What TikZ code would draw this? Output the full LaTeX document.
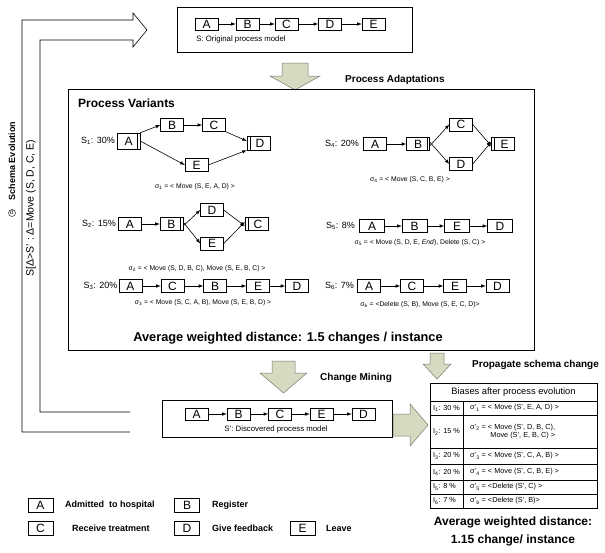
\documentclass[tikz,border=0pt]{standalone}
\usepackage{fontspec}
\setmainfont{Liberation Sans}
\usetikzlibrary{positioning}
\usetikzlibrary{arrows}

\definecolor{blockfill}{RGB}{214,218,192}
\definecolor{blockedge}{RGB}{120,120,110}

\tikzset{
  act/.style={draw, fill=white, minimum width=23pt, minimum height=13pt, inner sep=0pt, font=\fontsize{12}{12}\selectfont},
  flow/.style={-latex, line width=0.6pt},
  pct/.style={anchor=east, inner sep=1pt, font=\fontsize{9}{10}\selectfont},
  delta/.style={inner sep=0pt, font=\fontsize{6.8}{7}\selectfont},
  head/.style={anchor=west, inner sep=0pt, font=\bfseries\fontsize{10}{11}\selectfont},
  big/.style={inner sep=0pt, font=\bfseries\fontsize{12}{13}\selectfont},
  block/.style={draw=blockedge, fill=blockfill, line width=0.5pt},
  cell/.style={inner sep=0pt, font=\fontsize{7.3}{8.5}\selectfont},
  legtext/.style={anchor=west, inner sep=0pt, font=\bfseries\fontsize{9}{10}\selectfont}
}

\begin{document}
\begin{tikzpicture}[x=1pt,y=-1pt]
\useasboundingbox (0,0) rectangle (605,552);

% schema evolution (hollow arrow back to the top)
\draw[line width=0.6pt] (130,432) -- (22,432) -- (22,20) -- (133,20) -- (133,13) -- (147,30)
  -- (133,47) -- (133,40) -- (40,40) -- (40,412) -- (130,412);
\node[circle, draw, inner sep=0.6pt, font=\fontsize{6.5}{6.5}\selectfont] (sig) at (12,213) {σ};
\node[rotate=90, inner sep=0pt, font=\bfseries\fontsize{9}{10}\selectfont] (evo) at (12,161) {Schema Evolution};
\node[rotate=90, inner sep=0pt, font=\fontsize{10.5}{11}\selectfont] (delta) at (31,208) {S[Δ>S' : Δ=Move (S, D, C, E)};

% original process model
\draw (177,7) rectangle (412,52);
\node[act, minimum height=12pt] (oA) at (206.5,24) {A};
\node[act, minimum height=12pt] (oB) at (247.5,24) {B};
\node[act, minimum height=12pt] (oC) at (286.5,24) {C};
\node[act, minimum height=12pt] (oD) at (330,24) {D};
\node[act, minimum height=12pt] (oE) at (373.5,24) {E};
\draw[flow] (oA) -- (oB);
\draw[flow] (oB) -- (oC);
\draw[flow] (oC) -- (oD);
\draw[flow] (oD) -- (oE);
\node[cell, font=\fontsize{7.8}{8}\selectfont] (orig) at (241,39) {S: Original process model};

\draw[block] (282,63) -- (308,63) -- (308,76) -- (320,76) -- (295,90) -- (270,76) -- (282,76) -- cycle;
\node[head] (adapt) at (345,80) {Process Adaptations};

% process variants
\draw (68,89) rectangle (534,350);
\node[big, anchor=west] (pv) at (78,103) {Process Variants};

% S1
\node[pct] (s1) at (116,141) {S\textsubscript{1}: 30\%};
\node[act, minimum height=16pt] (a1) at (128.5,141) {A\hspace{3pt}};
\node[act] (b1) at (172,125) {B};
\node[act] (c1) at (214,125) {C};
\node[act, minimum height=14pt] (d1) at (258.5,143) {\hspace{3pt}D};
\node[act] (e1) at (196.5,165) {E};
\draw ([xshift=-3pt]a1.north east) -- ([xshift=-3pt]a1.south east);
\draw ([xshift=3pt]d1.north west) -- ([xshift=3pt]d1.south west);
\draw[flow] (a1.north east) -- (b1.west);
\draw[flow] (b1) -- (c1);
\draw[flow] (c1.south east) -- ([yshift=2pt]d1.west);
\draw[flow] (a1.east) -- (e1.west);
\draw[flow] (e1.east) -- (d1.south west);
\node[delta] (o1) at (195,187) {σ\textsubscript{1} = < Move (S, E, A, D) >};

% S4
\node[pct] (s4) at (360,144) {S\textsubscript{4}: 20\%};
\node[act] (a4) at (375,144) {A};
\node[act] (b4) at (418,144) {B\hspace{3pt}};
\node[act] (c4) at (461,124.5) {C};
\node[act] (d4) at (461,164) {D};
\node[act] (e4) at (503,144) {\hspace{3pt}E};
\draw ([xshift=-3pt]b4.north east) -- ([xshift=-3pt]b4.south east);
\draw ([xshift=3pt]e4.north west) -- ([xshift=3pt]e4.south west);
\draw[flow] (a4) -- (b4);
\draw[flow] ([yshift=-2pt]b4.east) -- (c4.west);
\draw[flow] ([yshift=2pt]b4.east) -- (d4.west);
\draw[flow] (c4.east) -- ([yshift=-2pt]e4.west);
\draw[flow] (d4.east) -- ([yshift=2pt]e4.west);
\node[delta] (o4) at (410,180) {σ\textsubscript{4} = < Move (S, C, B, E) >};

% S2
\node[pct] (s2) at (117,224) {S\textsubscript{2}: 15\%};
\node[act] (a2) at (130,224) {A};
\node[act] (b2) at (171.5,224) {B\hspace{3pt}};
\node[act] (d2) at (212,210) {D};
\node[act] (e2) at (212,243.5) {E};
\node[act] (c2) at (256.5,224) {\hspace{3pt}C};
\draw ([xshift=-3pt]b2.north east) -- ([xshift=-3pt]b2.south east);
\draw ([xshift=3pt]c2.north west) -- ([xshift=3pt]c2.south west);
\draw[flow] (a2) -- (b2);
\draw[flow] ([yshift=-2pt]b2.east) -- (d2.west);
\draw[flow] ([yshift=2pt]b2.east) -- (e2.west);
\draw[flow] (d2.east) -- ([yshift=-2pt]c2.west);
\draw[flow] (e2.east) -- ([yshift=2pt]c2.west);
\node[delta] (o2) at (197,269) {σ\textsubscript{2} = < Move (S, D, B, C), Move (S, E, B, C) >};

% S5
\node[pct] (s5) at (356,226) {S\textsubscript{5}: 8\%};
\node[act, minimum width=25pt] (a5) at (372,226) {A};
\node[act, minimum width=25pt] (b5) at (414.5,226) {B};
\node[act, minimum width=25pt] (e5) at (457,226) {E};
\node[act, minimum width=25pt] (d5) at (500,226) {D};
\draw[flow] (a5) -- (b5);
\draw[flow] (b5) -- (e5);
\draw[flow] (e5) -- (d5);
\node[delta] (o5) at (420,243) {σ\textsubscript{5} = < Move (S, D, E, \textit{End}), Delete (S, C) >};

% S3
\node[pct] (s3) at (118.5,286) {S\textsubscript{3}: 20\%};
\node[act] (a3) at (130.5,286) {A};
\node[act] (c3) at (172.5,286) {C};
\node[act] (b3) at (215,286) {B};
\node[act] (e3) at (258,286) {E};
\node[act] (f3) at (297,286) {D};
\draw[flow] (a3) -- (c3);
\draw[flow] (c3) -- (b3);
\draw[flow] (b3) -- (e3);
\draw[flow] (e3) -- (f3);
\node[delta] (o3) at (203,303) {σ\textsubscript{3} = < Move (S, C, A, B), Move (S, E, B, D) >};

% S6
\node[pct] (s6) at (355,286) {S\textsubscript{6}: 7\%};
\node[act] (a6) at (369,286) {A};
\node[act] (c6) at (412,286) {C};
\node[act] (e6) at (455,286) {E};
\node[act] (d6) at (497.5,286) {D};
\draw[flow] (a6) -- (c6);
\draw[flow] (c6) -- (e6);
\draw[flow] (e6) -- (d6);
\node[delta] (o6) at (420,305) {σ\textsubscript{6} = <Delete (S, B), Move (S, E, C, D)>};

\node[big, font=\bfseries\fontsize{12.8}{13}\selectfont] (avg) at (288,338) {Average weighted distance: 1.5 changes / instance};

% change mining
\draw[block] (272,361) -- (295,361) -- (295,373) -- (307,373) -- (283.5,393) -- (260,373) -- (272,373) -- cycle;
\node[head] (mine) at (320,378) {Change Mining};

\draw (162,400) rectangle (392,437);
\node[act, minimum height=12pt] (dA) at (196.5,414) {A};
\node[act, minimum height=12pt] (dB) at (238.5,414) {B};
\node[act, minimum height=12pt] (dC) at (280,414) {C};
\node[act, minimum height=12pt] (dE) at (321.5,414) {E};
\node[act, minimum height=12pt] (dD) at (363.5,414) {D};
\draw[flow] (dA) -- (dB);
\draw[flow] (dB) -- (dC);
\draw[flow] (dC) -- (dE);
\draw[flow] (dE) -- (dD);
\node[cell, font=\fontsize{7.8}{8}\selectfont] (disc) at (276,429) {S': Discovered process model};

% propagate schema change
\draw[block] (430,353) -- (444,353) -- (444,364) -- (451,364) -- (437,379) -- (423,364) -- (430,364) -- cycle;
\node[head] (prop) at (472,365) {Propagate schema change};
\draw[block] (393,414) -- (410,414) -- (410,404) -- (428,425) -- (410,446) -- (410,436) -- (393,436) -- cycle;

\draw (430,383) rectangle (597,508);
\draw (430,401) -- (597,401);
\draw (430,415) -- (597,415);
\draw (430,448) -- (597,448);
\draw (430,464) -- (597,464);
\draw (430,480) -- (597,480);
\draw (430,494) -- (597,494);
\draw (463,401) -- (463,508);
\node[cell, font=\fontsize{9.3}{10}\selectfont] (bias) at (513.5,392) {Biases after process evolution};
\node[cell, anchor=west] (i1) at (433,408) {I\textsubscript{1}: 30 \%};
\node[cell, anchor=west] (i2) at (433,432) {I\textsubscript{2}: 15 \%};
\node[cell, anchor=west] (i3) at (433,456) {I\textsubscript{3}: 20 \%};
\node[cell, anchor=west] (i4) at (433,472) {I\textsubscript{4}: 20 \%};
\node[cell, anchor=west] (i5) at (433,487) {I\textsubscript{5}: 8 \%};
\node[cell, anchor=west] (i6) at (433,501) {I\textsubscript{6}: 7 \%};
\node[cell, anchor=west] (r1) at (470,408) {σ'\textsubscript{1} = < Move (S', E, A, D) >};
\node[cell, anchor=west, align=right] (r2) at (470,431.5) {σ'\textsubscript{2} = < Move (S', D, B, C),\\ Move (S', E, B, C) >};
\node[cell, anchor=west] (r3) at (470,456) {σ'\textsubscript{3} = < Move (S', C, A, B) >};
\node[cell, anchor=west] (r4) at (470,472) {σ'\textsubscript{4} = < Move (S', C, B, E) >};
\node[cell, anchor=west] (r5) at (470,487) {σ'\textsubscript{5} = <Delete (S', C) >};
\node[cell, anchor=west] (r6) at (470,501) {σ'\textsubscript{6} = <Delete (S', B)>};
\node[big] (avg2) at (513,522) {Average weighted distance:};
\node[big] (avg3) at (513,540) {1.15 change/ instance};

% legend
\node[act, minimum width=25pt, minimum height=14pt] (lA) at (40.5,505) {A};
\node[legtext] (tA) at (65,505) {Admitted\ \ to hospital};
\node[act, minimum width=25pt, minimum height=14pt] (lB) at (187,505) {B};
\node[legtext] (tB) at (212,505) {Register};
\node[act, minimum width=25pt, minimum height=14pt] (lC) at (40.5,528) {C};
\node[legtext] (tC) at (72,528) {Receive treatment};
\node[act, minimum width=25pt, minimum height=14pt] (lD) at (187,528) {D};
\node[legtext] (tD) at (212,528) {Give feedback};
\node[act, minimum width=25pt, minimum height=14pt] (lE) at (302.5,528) {E};
\node[legtext] (tE) at (326,528) {Leave};
\end{tikzpicture}
\end{document}
